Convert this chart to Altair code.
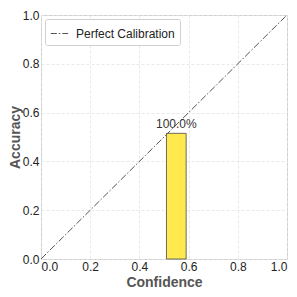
import altair as alt
import pandas as pd

# data
bin_left = [0.51]
bin_right = [0.59]
accuracy = [0.515]
bar_labels = ["100.0%"]
diag_x = [0.0, 1.0]
diag_y = [0.0, 1.0]
legend_name = "Perfect Calibration"

bars = pd.DataFrame({"x": bin_left, "x2": bin_right, "y": accuracy,
                     "xc": [(a + b) / 2 for a, b in zip(bin_left, bin_right)],
                     "label": bar_labels})
diag = pd.DataFrame({"x": diag_x, "y": diag_y, "s": [legend_name] * len(diag_x)})

xscale = alt.Scale(domain=[0, 1], nice=False)
yscale = alt.Scale(domain=[0, 1], nice=False)

xaxis = alt.Axis(title="Confidence", values=[0, 0.2, 0.4, 0.6, 0.8, 1.0], format=".1f",
                 labelPadding=2, titlePadding=3)
yaxis = alt.Axis(title="Accuracy", values=[0, 0.2, 0.4, 0.6, 0.8, 1.0], format=".1f",
                 labelPadding=2, titlePadding=0)

rect = alt.Chart(bars).mark_rect(fill="#FFE94F", stroke="#6b6b5a", strokeWidth=1).encode(
    x=alt.X("x:Q", scale=xscale, axis=xaxis),
    x2="x2:Q",
    y=alt.Y("y:Q", scale=yscale, axis=yaxis),
    y2=alt.datum(0),
)

text = alt.Chart(bars).mark_text(baseline="bottom", dy=-2, fontSize=12, color="#333",
                                 font="Liberation Sans").encode(
    x=alt.X("xc:Q", scale=xscale),
    y=alt.Y("y:Q", scale=yscale),
    text="label:N",
)

line = alt.Chart(diag).mark_line(strokeDash=[7, 2, 1.5, 2], strokeWidth=1).encode(
    x=alt.X("x:Q", scale=xscale),
    y=alt.Y("y:Q", scale=yscale),
    color=alt.Color("s:N", scale=alt.Scale(range=["#555555"]),
                    legend=alt.Legend(title=None, orient="top-left", offset=4,
                                      symbolType="stroke", symbolDash=[6, 2, 1.5, 2],
                                      symbolStrokeWidth=1, symbolSize=300,
                                      labelFontSize=12, labelFont="Liberation Sans",
                                      labelColor="#222", labelOffset=7,
                                      fillColor="white", strokeColor="#d0d0d0",
                                      padding=5, cornerRadius=2)),
)

chart = alt.layer(rect, line, text).properties(
    width=246, height=244,
    autosize=alt.AutoSizeParams(type="none"),
    padding={"left": 33, "top": 7, "right": 2, "bottom": 30},
).configure_view(stroke="#cccccc", strokeWidth=1).configure_axis(
    grid=True, gridColor="#e3e3e3", gridDash=[3, 2], gridWidth=0.8,
    domain=False, ticks=False,
    labelFont="Liberation Sans", labelFontSize=12, labelColor="#222",
    titleFont="Liberation Sans", titleFontSize=14, titleFontWeight="bold", titleColor="#555",
)

chart.save("out.html", embed_options={"renderer": "svg", "actions": False})
